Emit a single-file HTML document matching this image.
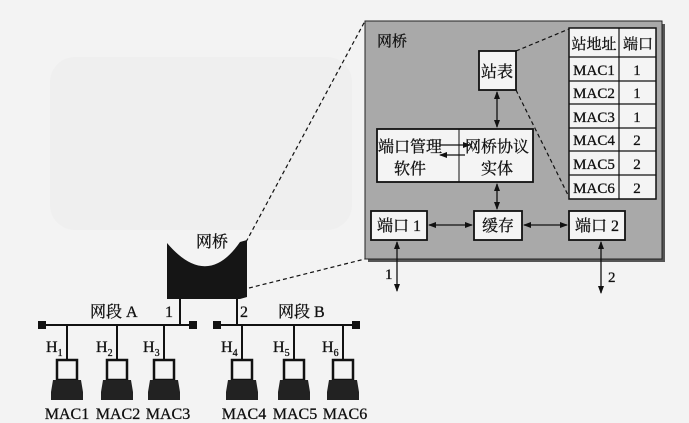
<!DOCTYPE html>
<html><head><meta charset="utf-8"><style>
body{margin:0;background:#f2f2f2;}
svg{display:block;font-family:"Liberation Serif","Noto Serif CJK SC","Noto Sans CJK SC",serif;}
text{stroke:#111;stroke-width:0.3;}
</style></head><body>
<svg width="689" height="423" viewBox="0 0 689 423" xmlns="http://www.w3.org/2000/svg">
<defs>
<marker id="ah" markerWidth="8" markerHeight="8" refX="7" refY="4" orient="auto-start-reverse" markerUnits="userSpaceOnUse"><path d="M0,1 L8,4 L0,7 Z" fill="#111"/></marker>
</defs>
<rect width="689" height="423" fill="#f3f3f3"/>
<rect x="50" y="57" width="302" height="173" rx="25" fill="#efefef"/>
<rect x="368" y="24" width="297" height="238" fill="#555"/>
<rect x="365" y="21" width="297" height="238" fill="#a9a9a9" stroke="#222" stroke-width="1"/>
<text x="377" y="46" font-size="15" fill="#111">网桥</text>
<g stroke="#111" stroke-width="1.5" fill="#f4f4f4">
<rect x="569" y="28" width="87" height="171"/>
</g>
<g stroke="#111" stroke-width="1.2">
<line x1="619" y1="28" x2="619" y2="199"/>
<line x1="569" y1="57" x2="656" y2="57"/>
<line x1="569" y1="81" x2="656" y2="81"/>
<line x1="569" y1="104" x2="656" y2="104"/>
<line x1="569" y1="128" x2="656" y2="128"/>
<line x1="569" y1="151" x2="656" y2="151"/>
<line x1="569" y1="175" x2="656" y2="175"/>
</g>
<g font-size="15" fill="#111" text-anchor="middle" style="stroke-width:0.25">
<text x="594" y="49">站地址</text><text x="638" y="49">端口</text>
<text x="594" y="75">MAC1</text><text x="637" y="75">1</text>
<text x="594" y="98">MAC2</text><text x="637" y="98">1</text>
<text x="594" y="122">MAC3</text><text x="637" y="122">1</text>
<text x="594" y="145">MAC4</text><text x="637" y="145">2</text>
<text x="594" y="169">MAC5</text><text x="637" y="169">2</text>
<text x="594" y="193">MAC6</text><text x="637" y="193">2</text>
</g>
<g stroke="#111" stroke-width="1.2" stroke-dasharray="4,3" fill="none">
<line x1="516" y1="51" x2="569" y2="29"/>
<line x1="516" y1="90" x2="569" y2="197"/>
<line x1="246" y1="242" x2="365" y2="21"/>
<line x1="249" y1="288" x2="365" y2="259"/>
</g>
<g fill="#f4f4f4" stroke="#111" stroke-width="1.8">
<rect x="479" y="51" width="37" height="39"/>
<rect x="377" y="129" width="156" height="53"/>
<rect x="371" y="211" width="56" height="29"/>
<rect x="474" y="211" width="48" height="29"/>
<rect x="569" y="211" width="56" height="29"/>
</g>
<line x1="459" y1="129" x2="459" y2="182" stroke="#111" stroke-width="1"/>
<g font-size="16" fill="#111" text-anchor="middle">
<text x="497" y="77">站表</text>
<text x="410" y="152">端口管理</text><text x="410" y="174">软件</text>
<text x="497" y="152">网桥协议</text><text x="497" y="174">实体</text>
<text x="399" y="231">端口 1</text>
<text x="498" y="231">缓存</text>
<text x="597" y="231">端口 2</text>
</g>
<g stroke="#111" stroke-width="1.3" fill="none">
<line x1="497" y1="92" x2="497" y2="127" marker-start="url(#ah)" marker-end="url(#ah)"/>
<line x1="497" y1="184" x2="497" y2="209" marker-start="url(#ah)" marker-end="url(#ah)"/>
<line x1="429" y1="225" x2="472" y2="225" marker-start="url(#ah)" marker-end="url(#ah)"/>
<line x1="524" y1="225" x2="567" y2="225" marker-start="url(#ah)" marker-end="url(#ah)"/>
<line x1="440" y1="145" x2="470" y2="145" marker-end="url(#ah)"/>
<line x1="465" y1="155" x2="440" y2="155" marker-end="url(#ah)"/>
<line x1="397" y1="242" x2="397" y2="291" marker-start="url(#ah)" marker-end="url(#ah)"/>
<line x1="601" y1="242" x2="601" y2="293" marker-start="url(#ah)" marker-end="url(#ah)"/>
</g>
<text x="385" y="279" font-size="15" fill="#111">1</text>
<text x="608" y="282" font-size="15" fill="#111">2</text>
<path d="M167,243 Q207,290 240,242 L247,240 L247,297 L240,299 L167,299 Z" fill="#151515"/>
<text x="212" y="247" font-size="16" fill="#111" text-anchor="middle">网桥</text>
<g stroke="#111" stroke-width="2">
<line x1="180" y1="299" x2="180" y2="325"/>
<line x1="237" y1="299" x2="237" y2="325"/>
<line x1="42" y1="325" x2="193" y2="325"/>
<line x1="217" y1="325" x2="356" y2="325"/>
<line x1="67" y1="325" x2="67" y2="362"/>
<line x1="117" y1="325" x2="117" y2="362"/>
<line x1="164" y1="325" x2="164" y2="362"/>
<line x1="242" y1="325" x2="242" y2="362"/>
<line x1="294" y1="325" x2="294" y2="362"/>
<line x1="343" y1="325" x2="343" y2="362"/>
</g>
<g fill="#111">
<rect x="38" y="321" width="8" height="8"/><rect x="189" y="321" width="8" height="8"/>
<rect x="213" y="321" width="8" height="8"/><rect x="352" y="321" width="8" height="8"/>
</g>
<g font-size="16" fill="#111">
<text x="90" y="317">网段 A</text><text x="165" y="317">1</text>
<text x="240" y="317">2</text><text x="278" y="317">网段 B</text>
</g>
<g font-size="16" fill="#111">
<text x="46" y="352">H<tspan font-size="10" dy="4">1</tspan></text>
<text x="96" y="352">H<tspan font-size="10" dy="4">2</tspan></text>
<text x="143" y="352">H<tspan font-size="10" dy="4">3</tspan></text>
<text x="221" y="352">H<tspan font-size="10" dy="4">4</tspan></text>
<text x="273" y="352">H<tspan font-size="10" dy="4">5</tspan></text>
<text x="322" y="352">H<tspan font-size="10" dy="4">6</tspan></text>
</g>
<g fill="#222" stroke="#111">
<g transform="translate(67,0)"><rect x="-10" y="360" width="20" height="20" fill="#f4f4f4" stroke-width="2.5"/><path d="M-14,380 L14,380 L16,392 L16,400 L-16,400 L-16,392 Z" stroke="none"/></g>
<g transform="translate(117,0)"><rect x="-10" y="360" width="20" height="20" fill="#f4f4f4" stroke-width="2.5"/><path d="M-14,380 L14,380 L16,392 L16,400 L-16,400 L-16,392 Z" stroke="none"/></g>
<g transform="translate(164,0)"><rect x="-10" y="360" width="20" height="20" fill="#f4f4f4" stroke-width="2.5"/><path d="M-14,380 L14,380 L16,392 L16,400 L-16,400 L-16,392 Z" stroke="none"/></g>
<g transform="translate(242,0)"><rect x="-10" y="360" width="20" height="20" fill="#f4f4f4" stroke-width="2.5"/><path d="M-14,380 L14,380 L16,392 L16,400 L-16,400 L-16,392 Z" stroke="none"/></g>
<g transform="translate(294,0)"><rect x="-10" y="360" width="20" height="20" fill="#f4f4f4" stroke-width="2.5"/><path d="M-14,380 L14,380 L16,392 L16,400 L-16,400 L-16,392 Z" stroke="none"/></g>
<g transform="translate(343,0)"><rect x="-10" y="360" width="20" height="20" fill="#f4f4f4" stroke-width="2.5"/><path d="M-14,380 L14,380 L16,392 L16,400 L-16,400 L-16,392 Z" stroke="none"/></g>
</g>
<g font-size="16" fill="#111" text-anchor="middle">
<text x="67" y="419">MAC1</text><text x="118" y="419">MAC2</text><text x="168" y="419">MAC3</text>
<text x="244" y="419">MAC4</text><text x="295" y="419">MAC5</text><text x="345" y="419">MAC6</text>
</g>
</svg>
</body></html>
